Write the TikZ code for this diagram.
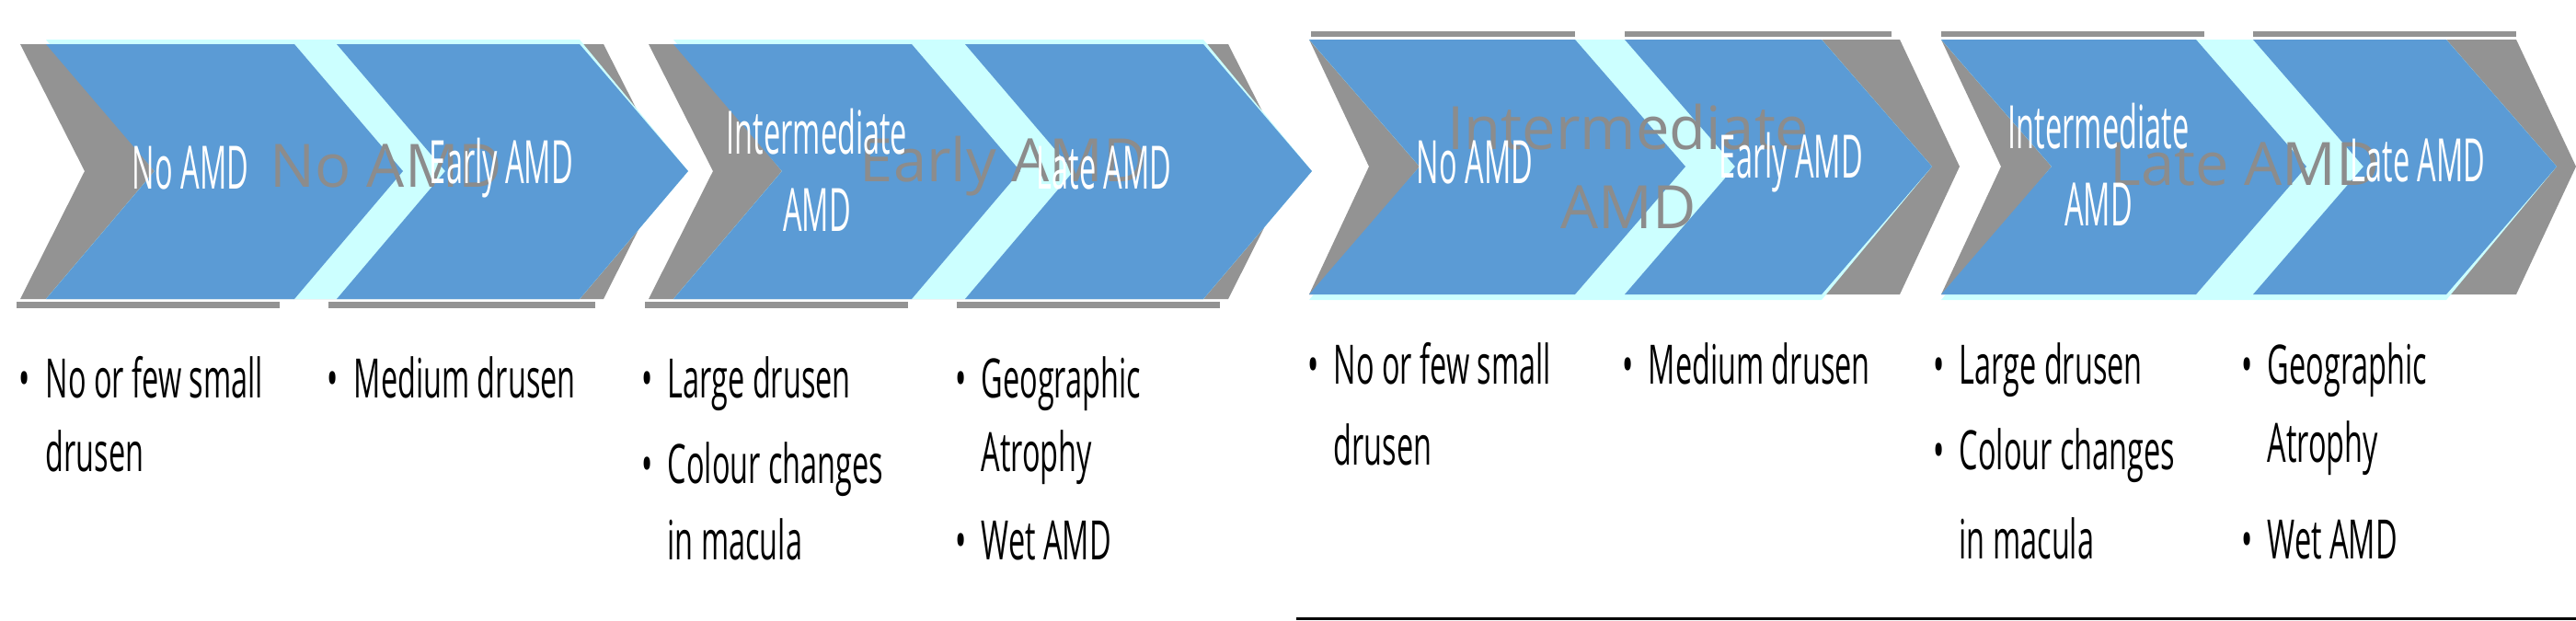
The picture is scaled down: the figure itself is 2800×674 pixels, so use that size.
\documentclass[tikz,border=0pt]{standalone}
\usepackage{fontspec}
\setmainfont{Open Sans}
\usepackage{graphicx}
\definecolor{chevblue}{HTML}{5B9BD5}
\definecolor{shadowgrey}{HTML}{939393}
\definecolor{glowcyan}{HTML}{CCFFFF}
\definecolor{labelgrey}{HTML}{8C8C8C}
\newcommand{\squeezed}[2][0.5]{\scalebox{#1}[1]{#2}}

\begin{document}
\begin{tikzpicture}[x=0.1mm, y=-0.1mm,
  chev/.style={fill=chevblue},
  shadowfill/.style={fill=shadowgrey},
  glow/.style={fill=glowcyan},
  stagelbl/.style={inner sep=0, text=white, align=center, font=\fontsize{18.5}{24}\selectfont},
  ghostlbl/.style={inner sep=0, text=labelgrey, align=center, font=\fontsize{18.5}{24.5}\selectfont},
  itemlbl/.style={inner sep=0, anchor=base west, font=\fontsize{16.8}{20}\selectfont}]
\useasboundingbox (0,0) rectangle (2800,674);
% left group
\fill[shadowfill] (22,48) -- (656,48) -- (726,186) -- (656,325) -- (22,325) -- (92,186) -- cycle;
\fill[glow] (50,43) -- (630,43) -- (748,186) -- (630,325) -- (50,325) -- (168,186) -- cycle;
\fill[shadowfill] (705,48) -- (1335,48) -- (1405,186) -- (1335,325) -- (705,325) -- (775,186) -- cycle;
\fill[glow] (732,43) -- (1308,43) -- (1426,186) -- (1308,325) -- (732,325) -- (850,186) -- cycle;
\fill[shadowfill] (18,328) rectangle (304,335);
\fill[shadowfill] (357,328) rectangle (647,335);
\fill[shadowfill] (701,328) rectangle (987,335);
\fill[shadowfill] (1040,328) rectangle (1326,335);
\fill[chev] (50,48) -- (320,48) -- (438,186) -- (320,325) -- (50,325) -- (168,186) -- cycle;
\fill[chev] (366,48) -- (630,48) -- (748,186) -- (630,325) -- (366,325) -- (484,186) -- cycle;
\fill[chev] (732,48) -- (991,48) -- (1109,186) -- (991,325) -- (732,325) -- (850,186) -- cycle;
\fill[chev] (1049,48) -- (1308,48) -- (1426,186) -- (1308,325) -- (1049,325) -- (1167,186) -- cycle;
% right group
\fill[shadowfill] (1423,43) -- (2065,43) -- (2130,181) -- (2065,320) -- (1423,320) -- (1488,181) -- cycle;
\fill[glow] (1423,43) -- (1980,43) -- (2100,181) -- (1980,326) -- (1423,326) -- (1543,181) -- cycle;
\fill[shadowfill] (2110,43) -- (2735,43) -- (2800,181) -- (2735,320) -- (2110,320) -- (2175,181) -- cycle;
\fill[glow] (2110,43) -- (2659,43) -- (2779,181) -- (2659,326) -- (2110,326) -- (2230,181) -- cycle;
\fill[shadowfill] (1425,34) rectangle (1712,40);
\fill[shadowfill] (1766,34) rectangle (2056,40);
\fill[shadowfill] (2110,34) rectangle (2396,40);
\fill[shadowfill] (2449,34) rectangle (2735,40);
\fill[chev] (1423,43) -- (1712,43) -- (1832,181) -- (1712,320) -- (1423,320) -- (1543,181) -- cycle;
\fill[chev] (1766,43) -- (1980,43) -- (2100,181) -- (1980,320) -- (1766,320) -- (1886,181) -- cycle;
\fill[chev] (2110,43) -- (2387,43) -- (2507,181) -- (2387,320) -- (2110,320) -- (2230,181) -- cycle;
\fill[chev] (2449,43) -- (2659,43) -- (2779,181) -- (2659,320) -- (2449,320) -- (2569,181) -- cycle;
% grey stage names
\node[ghostlbl] (ghost-no) at (420,181) {No AMD};
\node[ghostlbl] (ghost-early) at (1091,181) {Early AMD};
\node[ghostlbl] (ghost-inter) at (1770,181) {Intermediate\\AMD};
\node[ghostlbl] (ghost-late) at (2440,179) {Late AMD};
% stage names, left
\node[stagelbl] (stage-no-l) at (207,183) {\squeezed{No AMD}};
\node[stagelbl] (stage-early-l) at (545,183) {\squeezed{Early AMD}};
\node[stagelbl] (stage-inter-l) at (888,185) {\squeezed{Intermediate}\\\squeezed{AMD}};
\node[stagelbl] (stage-late-l) at (1200,183) {\squeezed{Late AMD}};
% stage names, right
\node[stagelbl] (stage-no-r) at (1603,177) {\squeezed{No AMD}};
\node[stagelbl] (stage-early-r) at (1947,177) {\squeezed{Early AMD}};
\node[stagelbl] (stage-inter-r) at (2281,179) {\squeezed{Intermediate}\\\squeezed{AMD}};
\node[stagelbl] (stage-late-r) at (2628,175) {\squeezed{Late AMD}};
% features, left
\node[itemlbl] (feat-no-l) at (49,432) {\squeezed[0.55]{\llap{\textbullet\hspace{3mm}}No or few small}};
\node[itemlbl] (feat-no-l2) at (49,512) {\squeezed[0.55]{drusen}};
\node[itemlbl] (feat-early-l) at (384,432) {\squeezed[0.55]{\llap{\textbullet\hspace{3mm}}Medium drusen}};
\node[itemlbl] (feat-inter-l) at (725,432) {\squeezed[0.55]{\llap{\textbullet\hspace{3mm}}Large drusen}};
\node[itemlbl] (feat-inter-l2) at (725,525) {\squeezed[0.55]{\llap{\textbullet\hspace{3mm}}Colour changes}};
\node[itemlbl] (feat-inter-l3) at (725,608) {\squeezed[0.55]{in macula}};
\node[itemlbl] (feat-late-l) at (1066,432) {\squeezed[0.55]{\llap{\textbullet\hspace{3mm}}Geographic}};
\node[itemlbl] (feat-late-l2) at (1066,512) {\squeezed[0.55]{Atrophy}};
\node[itemlbl] (feat-late-l3) at (1066,608) {\squeezed[0.55]{\llap{\textbullet\hspace{3mm}}Wet AMD}};
% features, right
\node[itemlbl] (feat-no-r) at (1449,417) {\squeezed[0.55]{\llap{\textbullet\hspace{3mm}}No or few small}};
\node[itemlbl] (feat-no-r2) at (1449,505) {\squeezed[0.55]{drusen}};
\node[itemlbl] (feat-early-r) at (1791,417) {\squeezed[0.55]{\llap{\textbullet\hspace{3mm}}Medium drusen}};
\node[itemlbl] (feat-inter-r) at (2129,417) {\squeezed[0.55]{\llap{\textbullet\hspace{3mm}}Large drusen}};
\node[itemlbl] (feat-inter-r2) at (2129,510) {\squeezed[0.55]{\llap{\textbullet\hspace{3mm}}Colour changes}};
\node[itemlbl] (feat-inter-r3) at (2129,607) {\squeezed[0.55]{in macula}};
\node[itemlbl] (feat-late-r) at (2464,417) {\squeezed[0.55]{\llap{\textbullet\hspace{3mm}}Geographic}};
\node[itemlbl] (feat-late-r2) at (2464,502) {\squeezed[0.55]{Atrophy}};
\node[itemlbl] (feat-late-r3) at (2464,607) {\squeezed[0.55]{\llap{\textbullet\hspace{3mm}}Wet AMD}};
% rule under the right group
\coordinate (rule-l) at (1409,672.5);
\coordinate (rule-r) at (2800,672.5);
\draw[line width=0.3mm] (rule-l) -- (rule-r);
\end{tikzpicture}
\end{document}
